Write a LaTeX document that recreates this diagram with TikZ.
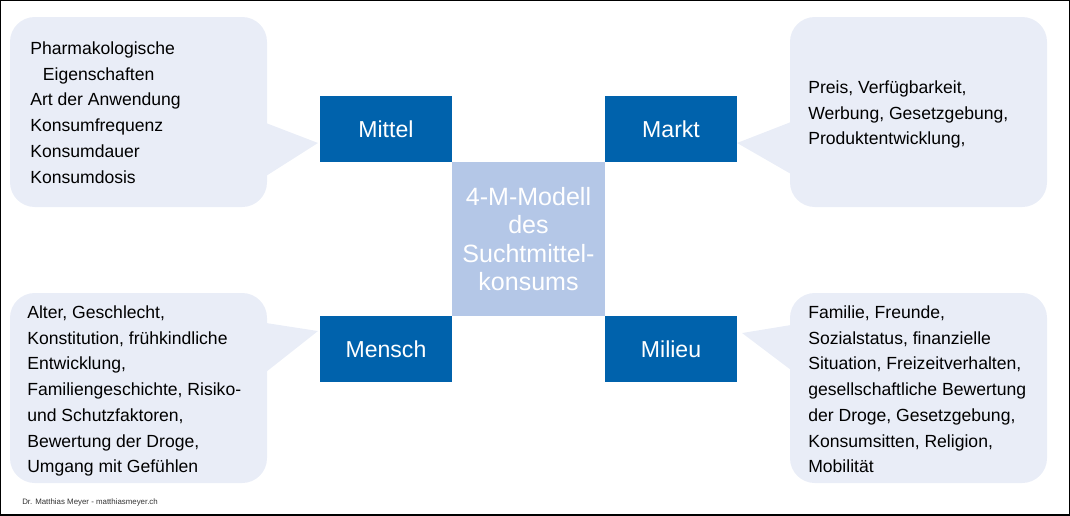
\documentclass[tikz,border=0pt]{standalone}
\usepackage{fontspec}
\setmainfont{Liberation Sans}
\usetikzlibrary{positioning,calc}
\definecolor{mblue}{RGB}{0,98,172}
\definecolor{mlight}{RGB}{180,199,231}
\definecolor{mbubble}{RGB}{233,237,247}

\begin{document}
\begin{tikzpicture}[x=0.025cm,y=-0.025cm,
    M/.style={rectangle,fill=mblue,text=white,inner sep=0,outer sep=0,
        minimum width=3.3cm,minimum height=1.65cm,font=\fontsize{16.4}{20}\selectfont},
    core/.style={rectangle,fill=mlight,text=white,inner sep=0,outer sep=0,align=center,
        minimum width=3.825cm,minimum height=3.85cm,font=\fontsize{17.8}{20.3}\selectfont},
    bubble/.style={fill=mbubble,rounded corners=0.62cm},
    pointer/.style={fill=mbubble},
    txt/.style={anchor=north west,inner sep=0,align=left,font=\fontsize{12.5}{18.3}\selectfont},
    credit/.style={anchor=west,inner sep=0,text=black!80,font=\fontsize{5.6}{6.5}\selectfont},]
\useasboundingbox (0,0) rectangle (1070,515);
\draw[black,line width=0.8pt] (0,0) rectangle (1070,515);

% speech bubbles
\fill[bubble] (10,17) rectangle (267,207);
\fill[bubble] (790,17) rectangle (1047,207);
\fill[bubble] (10,293) rectangle (267,483);
\fill[bubble] (790,293) rectangle (1047,483);

\node[core] (modell) at (528.5,239) {4-M-Modell\\des\\Suchtmittel-\\konsums};
\node[M,above left=0pt of modell] (mittel) {Mittel};
\node[M,above right=0pt of modell] (markt) {Markt};
\node[M,below left=0pt of modell] (mensch) {Mensch};
\node[M,below right=0pt of modell] (milieu) {Milieu};

\coordinate (tA) at ($(mittel.west)+(-2,14)$);
\coordinate (tB) at ($(markt.east)+(0,14)$);
\coordinate (tC) at ($(mensch.west)+(-2,-18)$);
\coordinate (tD) at ($(milieu.east)+(5,-16)$);
\fill[pointer] (266,123) -- (tA) -- (266,176) -- cycle;
\fill[pointer] (791,122) -- (tB) -- (791,174) -- cycle;
\fill[pointer] (266,323) -- (tC) -- (266,372) -- cycle;
\fill[pointer] (791,325) -- (tD) -- (791,370) -- cycle;

\node[txt] (mitteltxt) at (30,41.5) {Pharmakologische\\\hspace*{9pt}Eigenschaften\\Art der Anwendung\\Konsumfrequenz\\Konsumdauer\\Konsumdosis};
\node[txt] (markttxt) at (808,80.5) {Preis, Verfügbarkeit,\\Werbung, Gesetzgebung,\\Produktentwicklung,};
\node[txt] (menschtxt) at (27,305.5) {Alter, Geschlecht,\\Konstitution, frühkindliche\\Entwicklung,\\Familiengeschichte, Risiko-\\und Schutzfaktoren,\\Bewertung der Droge,\\Umgang mit Gefühlen};
\node[txt] (milieutxt) at (808,305.5) {Familie, Freunde,\\Sozialstatus, finanzielle\\Situation, Freizeitverhalten,\\gesellschaftliche Bewertung\\der Droge, Gesetzgebung,\\Konsumsitten, Religion,\\Mobilität};

\node[credit] (quelle) at (22,502) {Dr. Matthias Meyer - matthiasmeyer.ch};
\end{tikzpicture}
\end{document}
